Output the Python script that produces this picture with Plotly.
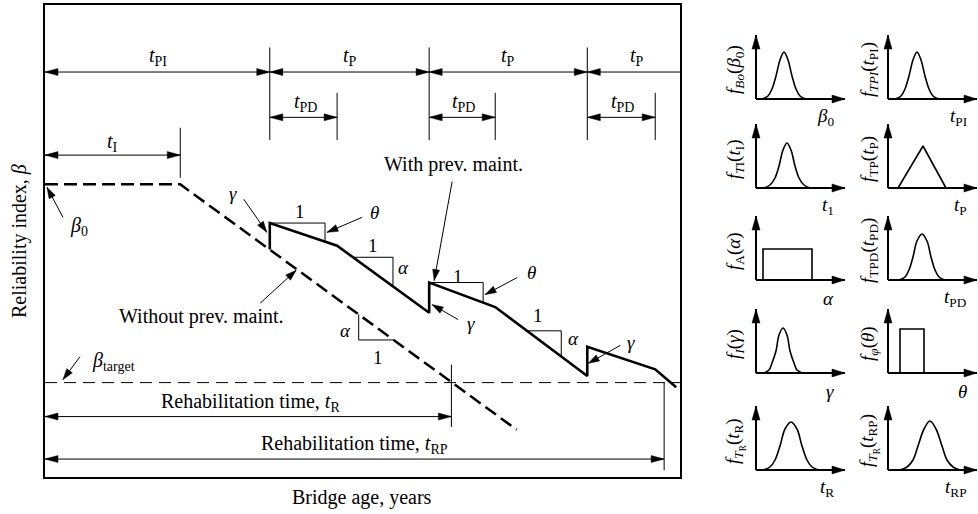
import math
import numpy as np
import plotly.graph_objects as go

W, H = 978, 514

# ---------------- chart values (schematic) ----------------
AGE_NO_PM = [0.0, 21.3, 74.3]          # bridge age, years
BETA_NO_PM = [3.10, 3.10, 0.50]        # reliability index without preventive maintenance
AGE_PM = [35.4, 35.4, 46.0, 60.5, 60.5, 70.9, 85.4, 85.4, 96.1, 99.4]
BETA_PM = [2.41, 2.69, 2.45, 1.74, 2.06, 1.80, 1.07, 1.38, 1.14, 0.95]
BETA_TARGET = 1.0
T_I = 21.3
PM_TIMES = [35.4, 60.5, 85.4]
PD_ENDS = [46.0, 70.9, 96.1]
T_R = 64.0
T_RP = 97.5
AGE_RANGE = [0, 100]
BETA_RANGE = [0, 5]

# small density panels (panel units)
BO_X = [6, 12, 16, 20, 24, 28, 32, 36, 40, 44, 50]
BO_Y = [0, 3, 10, 23, 39, 47, 39, 23, 10, 3, 0]
TPI_X = [7, 13, 17, 21, 25, 29, 33, 37, 41, 45, 51]
TPI_Y = [0, 3, 10, 23, 39, 47, 39, 23, 10, 3, 0]
TI_X = [8, 14, 19, 23, 27, 31, 35, 39, 43, 48, 54]
TI_Y = [0, 3, 10, 22, 38, 45, 38, 22, 10, 3, 0]
TP_X = [10, 35, 58]
TP_Y = [0, 42, 0]
A_X = [7, 7, 56, 56]
A_Y = [0, 31, 31, 0]
TPD_X = [11, 17, 21, 25, 29, 34, 39, 43, 47, 51, 57]
TPD_Y = [0, 3, 10, 23, 39, 46, 39, 23, 10, 3, 0]
G_X = [8, 13, 16, 20, 23, 27, 31, 34, 38, 41, 46]
G_Y = [0, 3, 10, 22, 38, 45, 38, 22, 10, 3, 0]
TH_X = [12, 12, 36, 36]
TH_Y = [0, 44, 44, 0]
TR_X = [7, 14, 19, 24, 29, 35, 41, 46, 51, 56, 63]
TR_Y = [0, 3, 10, 24, 41, 48, 41, 24, 10, 3, 0]
TRP_X = [12, 19, 25, 30, 36, 42, 48, 54, 59, 65, 72]
TRP_Y = [0, 3, 10, 24, 41, 49, 41, 24, 10, 3, 0]

PANEL_Y_LABELS = [
    "<i>f</i><sub><i>Bo</i></sub>(<i>β</i><sub>0</sub>)",
    "<i>f</i><sub><i>TPI</i></sub>(<i>t</i><sub>PI</sub>)",
    "<i>f</i><sub><i>T</i>I</sub>(<i>t</i><sub>I</sub>)",
    "<i>f</i><sub>TP</sub>(<i>t</i><sub>P</sub>)",
    "<i>f</i><sub>A</sub>(<i>α</i>)",
    "<i>f</i><sub>TPD</sub>(<i>t</i><sub>PD</sub>)",
    "<i>f</i><sub><i>I</i></sub>(<i>γ</i>)",
    "<i>f</i><sub><i>φ</i></sub>(<i>θ</i>)",
    "<i>f</i><sub><i>T</i><sub>R</sub></sub>(<i>t</i><sub>R</sub>)",
    "<i>f</i><sub><i>T</i><sub>R</sub></sub>(<i>t</i><sub>RP</sub>)",
]
PANEL_X_LABELS = [
    "<i>β</i><sub>0</sub>", "<i>t</i><sub>PI</sub>",
    "<i>t</i><sub>1</sub>", "<i>t</i><sub>P</sub>",
    "<i>α</i>", "<i>t</i><sub>PD</sub>",
    "<i>γ</i>", "<i>θ</i>",
    "<i>t</i><sub>R</sub>", "<i>t</i><sub>RP</sub>",
]
PANEL_CURVES = [
    (BO_X, BO_Y, True), (TPI_X, TPI_Y, True),
    (TI_X, TI_Y, True), (TP_X, TP_Y, False),
    (A_X, A_Y, False), (TPD_X, TPD_Y, True),
    (G_X, G_Y, True), (TH_X, TH_Y, False),
    (TR_X, TR_Y, True), (TRP_X, TRP_Y, True),
]

# ---------------- geometry helpers ----------------
FONT = "Liberation Serif, Times New Roman, serif"


class Tr:
    def __init__(self, x0, kx, y0, ky):
        self.x0, self.kx, self.y0, self.ky = x0, kx, y0, ky

    def px(self, x, y):
        return self.x0 + x * self.kx, self.y0 - y * self.ky

    def data(self, px, py):
        return (px - self.x0) / self.kx, (self.y0 - py) / self.ky


MAIN_L, MAIN_R, MAIN_B, MAIN_T = 45, 680, 477, 5
MAIN = Tr(MAIN_L, (MAIN_R - MAIN_L) / (AGE_RANGE[1] - AGE_RANGE[0]),
          MAIN_B, (MAIN_B - MAIN_T) / (BETA_RANGE[1] - BETA_RANGE[0]))


def seg(store, pts):
    for p in pts:
        store[0].append(p[0])
        store[1].append(p[1])
    store[0].append(None)
    store[1].append(None)


def head(T, store, tip, tail, L=13.0, hw=3.5):
    tx, ty = T.px(*tip)
    sx, sy = T.px(*tail)
    dx, dy = tx - sx, ty - sy
    n = math.hypot(dx, dy)
    ux, uy = dx / n, dy / n
    bx, by = tx - ux * L, ty - uy * L
    p1 = T.data(bx - uy * hw, by + ux * hw)
    p2 = T.data(bx + uy * hw, by - ux * hw)
    seg(store, [tip, p1, p2, tip])


def darrow(T, lines, heads, a, b, start=True, end=True, **kw):
    seg(lines, [a, b])
    if end:
        head(T, heads, b, a, **kw)
    if start:
        head(T, heads, a, b, **kw)


def nopm(x):
    return float(np.interp(x, AGE_NO_PM[1:], BETA_NO_PM[1:])) if x >= AGE_NO_PM[1] else BETA_NO_PM[0]


def on_pm(x, i):
    x0, x1 = AGE_PM[i], AGE_PM[i + 1]
    y0, y1 = BETA_PM[i], BETA_PM[i + 1]
    return y0 + (y1 - y0) * (x - x0) / (x1 - x0)


thin = ([], [])
heads = ([], [])

# dimension lines (y positions in beta units)
Y_TP, Y_TICK_TOP, Y_TICK_BOT = 4.29, 4.55, 3.57
Y_PD, Y_PD_TOP = 3.81, 4.07
Y_TI, Y_TI_TOP, Y_TI_BOT = 3.41, 3.70, 3.17
Y_TR, Y_TR_TOP, Y_TR_BOT = 0.64, 1.19, 0.53
Y_TRP, Y_TRP_BOT = 0.19, 0.07

darrow(MAIN, thin, heads, (AGE_RANGE[0], Y_TP), (PM_TIMES[0], Y_TP))
for i in range(len(PM_TIMES)):
    nxt = PM_TIMES[i + 1] if i + 1 < len(PM_TIMES) else AGE_RANGE[1]
    darrow(MAIN, thin, heads, (PM_TIMES[i], Y_TP), (nxt, Y_TP), end=(i + 1 < len(PM_TIMES)))
    seg(thin, [(PM_TIMES[i], Y_TICK_TOP), (PM_TIMES[i], Y_TICK_BOT)])
    darrow(MAIN, thin, heads, (PM_TIMES[i], Y_PD), (PD_ENDS[i], Y_PD))
    seg(thin, [(PD_ENDS[i], Y_PD_TOP), (PD_ENDS[i], Y_TICK_BOT)])

darrow(MAIN, thin, heads, (AGE_RANGE[0], Y_TI), (T_I, Y_TI))
seg(thin, [(T_I, Y_TI_TOP), (T_I, Y_TI_BOT)])

darrow(MAIN, thin, heads, (AGE_RANGE[0], Y_TR), (T_R, Y_TR))
seg(thin, [(T_R, Y_TR_TOP), (T_R, Y_TR_BOT)])
darrow(MAIN, thin, heads, (AGE_RANGE[0], Y_TRP), (T_RP, Y_TRP))
seg(thin, [(T_RP, BETA_TARGET), (T_RP, Y_TRP_BOT)])

# slope triangles on the maintained profile
THETA_TRI = [(1, 8.7), (4, 8.5)]
theta_mid = []
for i_top, w in THETA_TRI:
    x0, y0 = AGE_PM[i_top], BETA_PM[i_top]
    x1 = x0 + w
    y1 = on_pm(x1, i_top)
    seg(thin, [(x0, y0), (x1, y0), (x1, y1)])
    theta_mid.append((x1, (y0 + y1) / 2))

ALPHA_TRI = [(2, 48.5, 6.3), (5, 75.9, 5.4)]
for i_seg, xa, w in ALPHA_TRI:
    ya = on_pm(xa, i_seg)
    xb = xa + w
    yb = on_pm(xb, i_seg)
    seg(thin, [(xa, ya), (xb, ya), (xb, yb)])

# slope triangle on the unmaintained profile
XV, XH = 49.4, 54.9
seg(thin, [(XV, nopm(XV)), (XV, nopm(XH)), (XH, nopm(XH))])


# leader arrows: anchor in data units, head/tail offsets in pixels
def leader(anchor, hoff, toff):
    ax, ay = MAIN.px(*anchor)
    hd = MAIN.data(ax + hoff[0], ay + hoff[1])
    tl = MAIN.data(ax + toff[0], ay + toff[1])
    seg(thin, [tl, hd])
    head(MAIN, heads, hd, tl, L=11, hw=3.5)


leader((AGE_NO_PM[0], BETA_NO_PM[0]), (2, 3), (18, 33))
leader((PM_TIMES[0], (BETA_PM[0] + BETA_PM[1]) / 2), (-3, -4), (-26, -37))
leader(theta_mid[0], (2, 0), (37, -15))
leader((AGE_PM[4], BETA_PM[4]), (5, -2), (23, -101))
leader(theta_mid[1], (2, 2), (34, -15))
leader((AGE_PM[3], (BETA_PM[3] + BETA_PM[4]) / 2), (3, 7), (29, 22))
leader((AGE_PM[6], (BETA_PM[6] + BETA_PM[7]) / 2), (1, 2), (33, -16))
leader((39.4, nopm(39.4)), (1, 2), (-35, 35))
leader((AGE_RANGE[0], BETA_TARGET), (18, -3), (35, -26))

fig = go.Figure()

fig.add_trace(go.Scatter(x=thin[0], y=thin[1], mode="lines",
                         line=dict(color="black", width=1), hoverinfo="skip"))
fig.add_trace(go.Scatter(x=AGE_RANGE, y=[BETA_TARGET, BETA_TARGET], mode="lines",
                         line=dict(color="black", width=1, dash="12px,7px"), hoverinfo="skip"))
fig.add_trace(go.Scatter(x=AGE_NO_PM, y=BETA_NO_PM, mode="lines",
                         line=dict(color="black", width=2.5, dash="13px,6px"), hoverinfo="skip"))
fig.add_trace(go.Scatter(x=AGE_PM, y=BETA_PM, mode="lines",
                         line=dict(color="black", width=2.6), hoverinfo="skip"))
fig.add_trace(go.Scatter(x=heads[0], y=heads[1], mode="lines", fill="toself",
                         fillcolor="black", line=dict(color="black", width=0.5),
                         hoverinfo="skip"))

layout = dict(
    width=W, height=H, margin=dict(l=0, r=0, t=0, b=0),
    paper_bgcolor="white", plot_bgcolor="white", showlegend=False,
    font=dict(family=FONT, size=20, color="black"),
    xaxis=dict(domain=[MAIN_L / W, MAIN_R / W], range=AGE_RANGE, showgrid=False,
               zeroline=False, showticklabels=False, ticks="", showline=True,
               mirror=True, linecolor="black", linewidth=1.5, fixedrange=True),
    yaxis=dict(domain=[1 - MAIN_B / H, 1 - MAIN_T / H], range=BETA_RANGE, showgrid=False,
               zeroline=False, showticklabels=False, ticks="", showline=True,
               mirror=True, linecolor="black", linewidth=1.5, fixedrange=True),
)

# ---------------- density panels ----------------
PANEL_OX = [756, 888]
PANEL_OY = [99, 188, 280, 373, 470]
AX_LEN_X, AX_LEN_Y = 89, 64

for n, (cx, cy, smooth) in enumerate(PANEL_CURVES):
    row, col = divmod(n, 2)
    ox, oy = PANEL_OX[col], PANEL_OY[row]
    k = n + 2
    xr_max = min(ox + 92, W) - ox
    layout[f"xaxis{k}"] = dict(domain=[(ox - 6) / W, (ox + xr_max) / W], range=[-6, xr_max],
                               visible=False, fixedrange=True)
    layout[f"yaxis{k}"] = dict(domain=[1 - (oy + 6) / H, 1 - (oy - 66) / H], range=[-6, 66],
                               visible=False, fixedrange=True)
    T = Tr(ox, 1, oy, 1)
    pl = ([], [])
    ph = ([], [])
    darrow(T, pl, ph, (0, 0), (AX_LEN_X, 0), start=False, L=13, hw=4)
    darrow(T, pl, ph, (0, 0), (0, AX_LEN_Y), start=False, L=14, hw=4)
    fig.add_trace(go.Scatter(x=pl[0], y=pl[1], mode="lines", xaxis=f"x{k}", yaxis=f"y{k}",
                             line=dict(color="black", width=2), hoverinfo="skip"))
    fig.add_trace(go.Scatter(x=ph[0], y=ph[1], mode="lines", fill="toself", fillcolor="black",
                             xaxis=f"x{k}", yaxis=f"y{k}",
                             line=dict(color="black", width=0.5), hoverinfo="skip"))
    fig.add_trace(go.Scatter(x=cx, y=cy, mode="lines", xaxis=f"x{k}", yaxis=f"y{k}",
                             line=dict(color="black", width=1.6,
                                       shape="spline" if smooth else "linear", smoothing=1.0),
                             hoverinfo="skip"))

fig.update_layout(**layout)

# ---------------- text ----------------
ann = []


def lab(text, px, py, size=20, xanchor="center", angle=0):
    ann.append(dict(text=text, x=px / W, y=1 - py / H, xref="paper", yref="paper",
                    xanchor=xanchor, yanchor="middle", showarrow=False, textangle=angle,
                    font=dict(family=FONT, size=size, color="black")))


lab("<i>t</i><sub>PI</sub>", 158, 56)
for px in (350, 508, 637):
    lab("<i>t</i><sub>P</sub>", px, 56)
for px in (305, 463, 622):
    lab("<i>t</i><sub>PD</sub>", px, 103)
lab("<i>t</i><sub>I</sub>", 112, 142)
lab("<i>β</i><sub>0</sub>", 79, 226)
lab("<i>γ</i>", 233, 193, 19)
lab("1", 300, 211, 19)
lab("<i>θ</i>", 374, 212, 19)
lab("With prev. maint.", 453, 165)
lab("1", 373, 245, 19)
lab("<i>α</i>", 403, 267, 19)
lab("Without prev. maint.", 201, 316)
lab("<i>α</i>", 345, 330, 19)
lab("1", 378, 357, 19)
lab("1", 458, 276, 19)
lab("<i>θ</i>", 531, 272, 19)
lab("<i>γ</i>", 471, 323, 19)
lab("1", 538, 315, 19)
lab("<i>α</i>", 573, 338, 19)
lab("<i>γ</i>", 631, 342, 19)
lab("<i>β</i><sub>target</sub>", 113, 361)
lab("Rehabilitation time, <i>t</i><sub>R</sub>", 250, 402)
lab("Rehabilitation time, <i>t</i><sub>RP</sub>", 354, 444)
lab("Reliability index, <i>β</i>", 19, 241, angle=-90)
lab("Bridge age, years", 362, 497)

for n in range(10):
    row, col = divmod(n, 2)
    ox, oy = PANEL_OX[col], PANEL_OY[row]
    lab(PANEL_Y_LABELS[n], ox - 21 if col == 0 else ox - 19, oy - 29, 19, angle=-90)
    lab(PANEL_X_LABELS[n], ox + (80 if col == 0 else 81), oy + 18, 19, xanchor="right")

fig.update_layout(annotations=ann)

fig.write_html("out.html", config={"displayModeBar": False},
               post_script="document.body.style.margin='0px';document.body.style.overflow='hidden';")
